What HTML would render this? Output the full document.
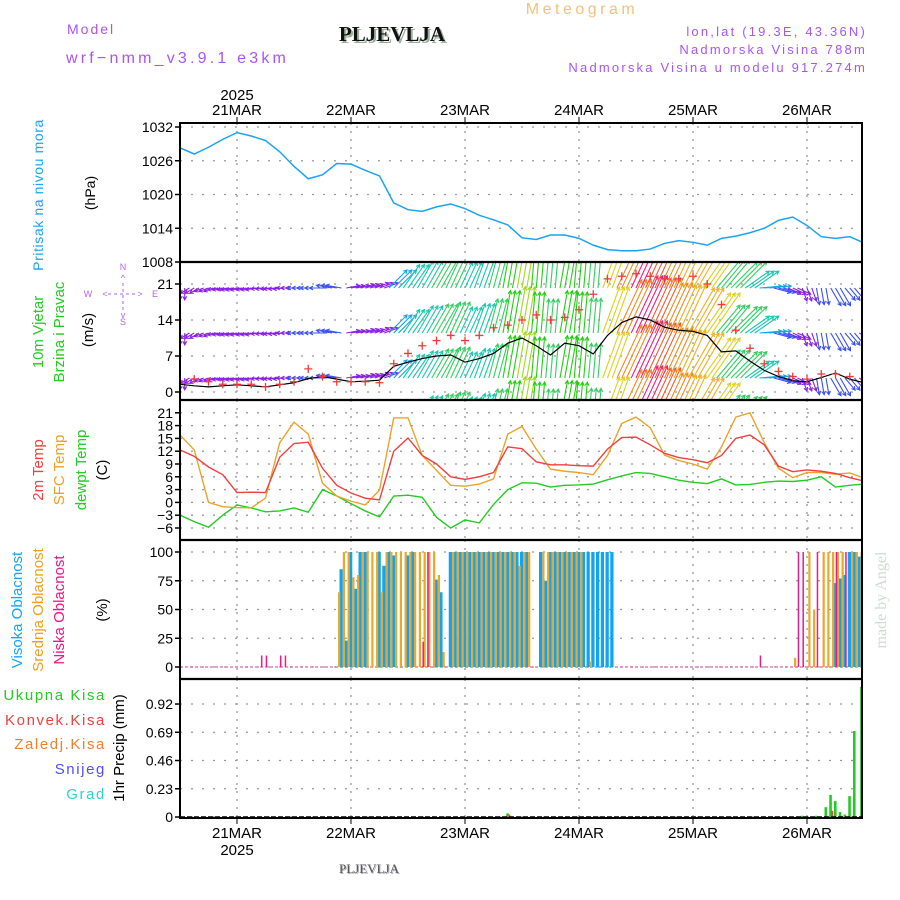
<!DOCTYPE html>
<html><head><meta charset="utf-8"><title>Meteogram PLJEVLJA</title>
<style>
html,body{margin:0;padding:0;background:#fff;}
svg{display:block;font-family:"Liberation Sans",sans-serif;}
</style></head>
<body>
<svg id="chart" width="900" height="900" viewBox="0 0 900 900" xmlns="http://www.w3.org/2000/svg">
<defs>
<clipPath id="cp1"><rect x="180" y="123" width="682" height="139"/></clipPath>
<clipPath id="cp2"><rect x="180" y="263" width="682" height="137"/></clipPath>
<clipPath id="cp3"><rect x="180" y="401" width="682" height="139"/></clipPath>
<clipPath id="cp4"><rect x="180" y="541" width="682" height="138"/></clipPath>
<clipPath id="cp5"><rect x="180" y="680" width="683" height="138"/></clipPath>
</defs>
<!-- header -->
<text x="582" y="14" font-size="16" fill="#f2c27a" text-anchor="middle" letter-spacing="3.5">Meteogram</text>
<text x="67" y="34" font-size="14" fill="#a855f7" letter-spacing="2">Model</text>
<text x="66" y="63" font-size="16" fill="#a855f7" letter-spacing="3.2">wrf−nmm_v3.9.1 e3km</text>
<text x="394" y="43" font-size="21" font-weight="bold" font-family="Liberation Serif,serif" fill="#9ab09a" text-anchor="middle">PLJEVLJA</text>
<text x="392" y="41" font-size="21" font-weight="bold" font-family="Liberation Serif,serif" fill="#111" text-anchor="middle">PLJEVLJA</text>
<text x="867" y="36" font-size="13" fill="#a855f7" text-anchor="end" letter-spacing="2.2">lon,lat (19.3E, 43.36N)</text>
<text x="867" y="54" font-size="13" fill="#a855f7" text-anchor="end" letter-spacing="2.2">Nadmorska Visina 788m</text>
<text x="867" y="72" font-size="13" fill="#a855f7" text-anchor="end" letter-spacing="2.2">Nadmorska Visina u modelu 917.274m</text>
<text x="237" y="100" font-size="15" text-anchor="middle">2025</text>
<!-- left labels -->
<text transform="translate(43,195) rotate(-90)" font-size="14" fill="#1aa3f5" text-anchor="middle" letter-spacing="0.6">Pritisak na nivou mora</text>
<text transform="translate(95,193) rotate(-90)" font-size="14" text-anchor="middle">(hPa)</text>
<text transform="translate(43,332) rotate(-90)" font-size="15" fill="#22cc22" text-anchor="middle">10m Vjetar</text>
<text transform="translate(64,332) rotate(-90)" font-size="15" fill="#22cc22" text-anchor="middle">Brzina i Pravac</text>
<text transform="translate(93,330) rotate(-90)" font-size="15" text-anchor="middle">(m/s)</text>
<g fill="#b266f0" font-size="9" text-anchor="middle">
<text x="123" y="270">N</text><text x="88" y="297">W</text><text x="155" y="297">E</text><text x="123" y="325">S</text>
<text x="123" y="281">^</text><text x="105" y="297">&lt;</text><text x="140" y="297">&gt;</text><text x="123" y="318">v</text>
<line x1="123" y1="283" x2="123" y2="311" stroke="#b266f0" stroke-dasharray="3,3"/><line x1="108" y1="294" x2="138" y2="294" stroke="#b266f0" stroke-dasharray="3,3"/>
</g>
<text transform="translate(43,470) rotate(-90)" font-size="15" fill="#f04040" text-anchor="middle">2m Temp</text>
<text transform="translate(64,470) rotate(-90)" font-size="15" fill="#f0a020" text-anchor="middle">SFC Temp</text>
<text transform="translate(86,470) rotate(-90)" font-size="15" fill="#22cc22" text-anchor="middle">dewpt Temp</text>
<text transform="translate(107,470) rotate(-90)" font-size="15" text-anchor="middle">(C)</text>
<text transform="translate(22,610) rotate(-90)" font-size="15" fill="#1aa3f5" text-anchor="middle">Visoka Oblacnost</text>
<text transform="translate(43,610) rotate(-90)" font-size="15" fill="#f0a020" text-anchor="middle">Srednja Oblacnost</text>
<text transform="translate(64,610) rotate(-90)" font-size="15" fill="#f0148c" text-anchor="middle">Niska Oblacnost</text>
<text transform="translate(107,610) rotate(-90)" font-size="15" text-anchor="middle">(%)</text>
<g font-size="15" text-anchor="end" letter-spacing="1.6">
<text x="106" y="700" fill="#22cc22">Ukupna Kisa</text>
<text x="106" y="725" fill="#f04040">Konvek.Kisa</text>
<text x="106" y="749" fill="#f08030">Zaledj.Kisa</text>
<text x="106" y="774" fill="#5050f0">Snijeg</text>
<text x="106" y="799" fill="#30d0d0">Grad</text>
</g>
<text transform="translate(124,748) rotate(-90)" font-size="15" text-anchor="middle">1hr Precip (mm)</text>
<text transform="translate(886,600) rotate(-90)" font-size="16" fill="#cfdcd0" font-family="Liberation Serif,serif" text-anchor="middle">made by Angel</text>
<text x="370" y="874" font-size="13" font-family="Liberation Serif,serif" fill="#aab" text-anchor="middle">PLJEVLJA</text>
<text x="369" y="873" font-size="13" font-family="Liberation Serif,serif" fill="#555" text-anchor="middle">PLJEVLJA</text>
<text x="237" y="855" font-size="15" text-anchor="middle">2025</text>
<g id="layer"></g>
</svg>
<script>
// ---- data ----
const dayLabels = ["21MAR","22MAR","23MAR","24MAR","25MAR","26MAR"];
const dayHours = [0,24,48,72,96,120];
const hours3 = [-12,-9,-6,-3,0,3,6,9,12,15,18,21,24,27,30,33,36,39,42,45,48,51,54,57,60,63,66,69,72,75,78,81,84,87,90,93,96,99,102,105,108,111,114,117,120,123,126,129,132];
const pressure = [1028.3,1027.2,1028.4,1029.8,1031,1030.4,1029.6,1027.6,1025,1022.8,1023.5,1025.5,1025.4,1024.3,1023.3,1018.5,1017.3,1017,1017.8,1018.3,1017.5,1016.3,1015.5,1014.6,1012.3,1012,1012.8,1012.8,1012.2,1011,1010.2,1010,1010,1010.3,1011.3,1011.8,1011.5,1011,1012.2,1012.6,1013.2,1014,1015.4,1016,1014.5,1012.5,1012.2,1012.5,1011.4];
const windSpeed = [1.5,1.2,1,1.2,1.4,1.2,1,1.4,1.8,2.6,3,2.5,2,2.1,2.3,5,5.8,6.5,7,7.2,5.8,6.5,7.5,9.5,10.5,9,7.2,9.5,9,7.4,11,13.5,14.6,14,12.6,12,11.8,11,7.8,8,6,4.2,3,2.2,2,2.8,3.7,2.5,1.8];
const windGust = [2,2.5,2,1.5,1.5,1.5,1,1.5,2,4.5,3,2,2,2,1.8,5.5,7.5,9,10,11,10,11,12.5,13,14,15,14,14.5,16,19,22,22.5,23,22.5,22,22,22.5,21,17,12,8.5,5.5,4,3,2.5,3.5,3.5,3,2.5];
const windDir = [0,60,70,80,80,80,85,85,90,90,90,100,260,255,250,225,215,210,210,205,205,200,195,190,190,185,185,190,185,185,200,205,205,205,205,205,210,215,220,225,235,265,285,295,340,350,330,320,300];
const temp2m = [12.3,10.8,8.3,6.5,2.3,2.4,2.3,10.6,13.8,14.1,8,4,2.2,1,0.6,12,15.1,11,9,6,5.4,6,7,13,12.6,9.5,8.8,8.8,8.6,8.5,12.5,15.2,15.3,13.5,11.5,10.5,10,9.3,11,15,15.8,13.5,8.5,7.2,7.6,7.3,6.8,5.8,5];
const tempSfc = [15.8,12.3,0,-1,-1.2,-1.3,1,14,18.8,16,4.5,1.5,0.3,-0.6,2.9,19.8,19.8,11,7.5,4,3.8,4.3,5.5,16,17.8,12.5,7.8,7.3,7,6.5,11,18.5,20,17.5,11.1,9.8,9,7.8,13,20,21,14,8,5.8,7,7,6.6,6.9,5.7];
const dewpoint = [-3,-4.5,-5.8,-3,-0.6,-1.3,-2.2,-2,-1.3,-2.3,3,1.5,-0.3,-2,-3.4,1.5,1.7,1.2,-3.5,-6,-4.1,-4.8,-0.5,3,4.6,4.5,3.6,4,4.1,4.3,5.3,6.2,7,6.8,6,5.2,4.7,4.4,5.5,4.1,4.2,4.7,5,4.9,5.2,6,3.6,4,4.3];
const cloudStartHour = -12;
const cloudHigh = [0,0,0,0,0,0,0,0,0,0,0,0,0,0,0,0,0,0,0,0,0,0,0,0,0,0,0,0,0,0,0,0,0,0,
85,23,100,68,100,100,0,0,100,88,100,97,0,0,97,100,0,0,0,0,76,65,0,
100,100,100,100,100,100,100,100,100,100,100,100,100,100,100,100,100,0,0,100,75,100,100,100,100,100,100,100,100,100,100,100,100,100,100,
0,0,0,0,0,0,0,0,0,0,0,0,0,0,0,0,0,0,0,0,0,0,0,0,0,0,0,0,0,0,0,0,0,0,0,0,0,0,0,0,0,0,0,0,0,0,73,77,80,100,100,96];
const cloudMid = [0,0,0,0,0,0,0,0,0,0,0,0,0,0,0,0,0,0,0,0,0,0,0,0,0,0,0,0,0,0,0,0,0,65,
100,100,78,80,100,100,100,100,65,100,100,100,100,100,100,100,100,100,100,100,80,13,0,
100,100,100,100,100,100,100,100,100,100,100,100,100,100,88,100,100,0,0,100,100,100,100,100,100,100,100,100,0,5,0,0,0,0,0,
0,0,0,0,0,0,0,0,0,0,0,0,0,0,0,0,0,0,0,0,0,0,0,0,0,0,0,0,0,0,0,0,0,0,0,0,0,8,0,0,100,50,0,100,100,100,100,100,0,100,100,100];
const cloudLow = [0,0,0,0,0,0,0,0,0,0,0,0,0,0,0,0,0,10,10,0,0,10,10,
0,0,0,0,0,0,0,0,0,0,0,0,0,0,0,0,0,0,0,0,0,0,0,0,0,0,0,0,22,100,
0,0,0,0,0,0,0,0,0,0,0,0,0,0,0,0,0,0,0,0,0,0,0,0,0,0,0,0,0,0,0,0,0,0,0,0,0,0,0,0,0,0,0,0,0,0,0,0,0,0,0,0,0,0,0,0,0,0,0,0,0,0,0,0,0,0,0,0,0,
10,0,0,0,0,0,0,0,100,100,0,0,100,0,0,0,100,0,100,0,0,0];
const precipHours = [57,119,122,124,125,126,127,128,129,130,131.5];
const precipTotal = [0.03,0.01,0.01,0.08,0.18,0.13,0.04,0.02,0.17,0.70,1.06];
const precipConv = [0.02,0,0,0,0.05,0,0.01,0,0,0,0];
const pTicks = [1032,1026,1020,1014,1008];
const wTicks = [21,14,7,0];
const tTicks = [21,18,15,12,9,6,3,0,-3,-6];
const cTicks = [100,75,50,25,0];
const rTicks = [0.92,0.69,0.46,0.23,0];

// ---- scales ----
const X0=180, X1=862;
const xs = h => 237 + h*4.75;
const yP = p => 127 + (1032-p)*5.625;
const yW = v => 392 - v*36/7;
const yT = t => 528 - (t+6)*12.8/3;
const yC = c => 667 - c*1.15;
const yR = r => 817 - r*122.8;
const NS="http://www.w3.org/2000/svg";
const layer=document.getElementById('layer');
function mk(tag,attrs,parent){const e=document.createElementNS(NS,tag);for(const k in attrs)e.setAttribute(k,attrs[k]);(parent||layer).appendChild(e);return e;}

const panels=[{y0:123,y1:262,ticks:pTicks,sc:yP,fmt:v=>String(v),name:'pressure'},
 {y0:262,y1:400,ticks:wTicks,sc:yW,fmt:v=>String(v),name:'wind'},
 {y0:400,y1:540,ticks:tTicks,sc:yT,fmt:v=>(v<0?'−'+(-v):String(v)),name:'temperature'},
 {y0:540,y1:679,ticks:cTicks,sc:yC,fmt:v=>String(v),name:'cloud'},
 {y0:679,y1:818,ticks:rTicks,sc:yR,fmt:v=>String(v),name:'precip'}];
panels.forEach(p=>{
  const g=mk('g',{});
  
  
  dayHours.forEach(h=>{mk('line',{x1:xs(h),x2:xs(h),y1:p.y0,y2:p.y1,stroke:'#999','stroke-width':1.3,'stroke-dasharray':'2,6'},g);});
  p.ticks.forEach(t=>{
    const y=p.sc(t);
    mk('line',{x1:X0,x2:X1,y1:y,y2:y,stroke:'#999','stroke-width':1.3,'stroke-dasharray':'2,9'},g);
    mk('line',{x1:X0-5,x2:X0,y1:y,y2:y,stroke:'#000','stroke-width':1.5},g);
    const tx=mk('text',{x:X0-7,y:y+5,'font-size':14,'text-anchor':'end'},g);
    tx.textContent=p.fmt(t);
    
    
  });
});

const pl=mk('polyline',{points:hours3.map((h,i)=>xs(h)+','+yP(pressure[i])).join(' '),fill:'none',stroke:'#1aa3f5','stroke-width':1.5,'clip-path':'url(#cp1)'});



function windColor(v){
  if(v<2.5)return '#8a20e8';if(v<4)return '#3a50f5';if(v<5.5)return '#10a8e8';if(v<7)return '#18c8b0';
  if(v<8.5)return '#30d060';if(v<9.8)return '#20d010';if(v<10.8)return '#a0d820';if(v<11.7)return '#e0d020';
  if(v<12.6)return '#f0b020';if(v<13.6)return '#f08a20';if(v<14.3)return '#f05a30';return '#f02080';}
const wg=mk('g',{'clip-path':'url(#cp2)'});


const rowBases=[288,333,378,423];
for(let h=-12;h<=131;h++){
  const i=Math.min(hours3.length-1,Math.max(0,Math.round((h+12)/3)));
  const v=windSpeed[i], d=windDir[i]*Math.PI/180;
  const L=6+3.9*v;
  const dx=-Math.sin(d)*L, dy=Math.cos(d)*L;
  const col=windColor(v);
  rowBases.forEach(b=>{
    const x=xs(h), y=b, ex=x+dx, ey=y+dy;
    const a=Math.atan2(ey-y,ex-x), hl=4;
    const arr=mk('path',{d:`M${x},${y}L${ex},${ey}M${ex-hl*Math.cos(a-0.5)},${ey-hl*Math.sin(a-0.5)}L${ex},${ey}L${ex-hl*Math.cos(a+0.5)},${ey-hl*Math.sin(a+0.5)}`,stroke:col,'stroke-width':1.1,fill:'none'},wg);
    
    
  });
}
const wl=mk('polyline',{points:hours3.map((h,i)=>xs(h)+','+yW(windSpeed[i])).join(' '),fill:'none',stroke:'#000','stroke-width':1.2,'clip-path':'url(#cp2)'});


const gg=mk('g',{stroke:'#f03a3a','stroke-width':1.3,'clip-path':'url(#cp2)'});


hours3.forEach((h,i)=>{const x=xs(h),y=yW(windGust[i]);
  const m=mk('path',{d:`M${x-4},${y}h8M${x},${y-4}v8`},gg);
  
  });

[[dewpoint,'#22cc22','dewpoint-line'],[tempSfc,'#eba32a','sfc-temp-line'],[temp2m,'#f04040','temp-2m-line']].forEach(([arr,c,n])=>{
  const l=mk('polyline',{points:hours3.map((h,i)=>xs(h)+','+yT(arr[i])).join(' '),fill:'none',stroke:c,'stroke-width':1.4,'clip-path':'url(#cp3)'});
  
  
});

const cg=mk('g',{'clip-path':'url(#cp4)'});


mk('line',{x1:X0,x2:X1,y1:667,y2:667,stroke:'#d04090','stroke-width':1,'stroke-dasharray':'3,2'},cg);
cloudHigh.forEach((v,i)=>{if(v>0){const h=cloudStartHour+i;const r=mk('rect',{x:xs(h)-2,y:yC(v),width:3.3,height:667-yC(v),fill:'#12a4f2'},cg);
  
  }});
cloudMid.forEach((v,i)=>{if(v>0){const h=cloudStartHour+i;const r=mk('rect',{x:xs(h)+1.3,y:yC(v),width:2.2,height:667-yC(v),fill:'#eaa72c'},cg);
  
  }});
cloudLow.forEach((v,i)=>{if(v>0){const h=cloudStartHour+i;const r=mk('rect',{x:xs(h)+0.2,y:yC(v),width:1.5,height:667-yC(v),fill:'#ec1a8a'},cg);
  
  }});

const rg=mk('g',{'clip-path':'url(#cp5)'});


precipHours.forEach((h,i)=>{
  const t=mk('rect',{x:xs(h)-1.5,y:yR(precipTotal[i]),width:2.6,height:817-yR(precipTotal[i]),fill:'#22cc22'},rg);
  
  
  if(precipConv[i]>0){const c=mk('rect',{x:xs(h)+0.5,y:yR(precipConv[i]),width:2,height:817-yR(precipConv[i]),fill:'#f04040'},rg);
    
    }
});
mk('line',{x1:X0,x2:X1,y1:817,y2:817,stroke:'#000','stroke-width':1.5,'stroke-dasharray':'5,2'});

const fr=mk('rect',{x:X0,y:123,width:X1-X0,height:818-123,fill:'none',stroke:'#000','stroke-width':2});


[262,400,540,679].forEach(y=>{const l=mk('line',{x1:X0,x2:X1,y1:y,y2:y,stroke:'#000','stroke-width':2.2});
  
  });
dayHours.forEach((h,i)=>{
  mk('line',{x1:xs(h),x2:xs(h),y1:117,y2:123,stroke:'#000','stroke-width':1});
  mk('line',{x1:xs(h),x2:xs(h),y1:818,y2:824,stroke:'#000','stroke-width':1});
  const t1=mk('text',{x:xs(h),y:115,'font-size':15,'text-anchor':'middle'});
  t1.textContent=dayLabels[i];
  
  
  const t2=mk('text',{x:xs(h),y:838,'font-size':15,'text-anchor':'middle'});
  t2.textContent=dayLabels[i];
  
  
});
</script>
</body></html>
